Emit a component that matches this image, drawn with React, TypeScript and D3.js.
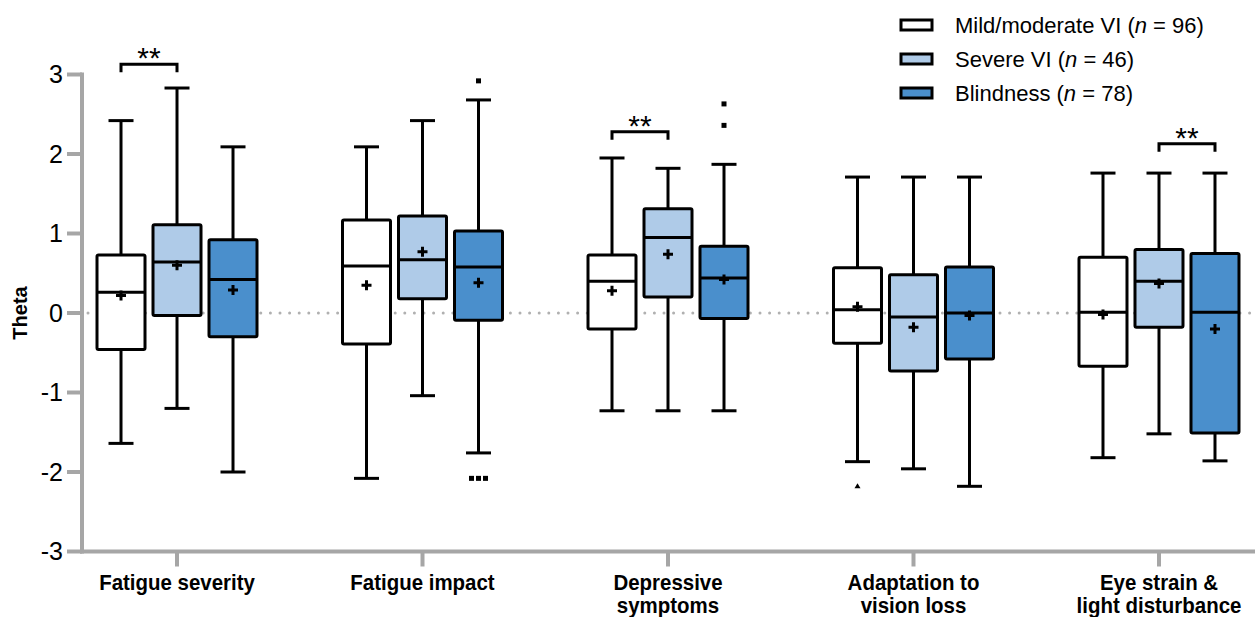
import React, { useEffect, useRef } from 'react';
import * as d3 from 'd3';

const categories = ['Fatigue severity', 'Fatigue impact', 'Depressive symptoms', 'Adaptation to vision loss', 'Eye strain & light disturbance'];
const categoryLines = [['Fatigue severity'], ['Fatigue impact'], ['Depressive', 'symptoms'], ['Adaptation to', 'vision loss'], ['Eye strain &', 'light disturbance']];
const seriesNames = ['Mild/moderate VI', 'Severe VI', 'Blindness'];
const seriesN = [96, 46, 78];
const seriesColors = ['#ffffff', '#afcbe8', '#4a8fcc'];

// [category][series]
const whiskerHigh = [[2.42, 2.83, 2.09], [2.09, 2.42, 2.68], [1.95, 1.82, 1.87], [1.71, 1.71, 1.71], [1.76, 1.76, 1.76]];
const q3 = [[0.73, 1.11, 0.92], [1.17, 1.22, 1.03], [0.73, 1.31, 0.84], [0.57, 0.48, 0.58], [0.7, 0.8, 0.75]];
const medians = [[0.26, 0.64, 0.42], [0.59, 0.67, 0.58], [0.4, 0.95, 0.44], [0.04, -0.05, 0.0], [0.01, 0.4, 0.01]];
const q1 = [[-0.46, -0.03, -0.3], [-0.39, 0.18, -0.09], [-0.2, 0.2, -0.07], [-0.38, -0.73, -0.58], [-0.67, -0.18, -1.51]];
const whiskerLow = [[-1.64, -1.2, -2.0], [-2.08, -1.04, -1.76], [-1.23, -1.23, -1.23], [-1.87, -1.96, -2.18], [-1.82, -1.52, -1.86]];
const means = [[0.22, 0.6, 0.29], [0.35, 0.77, 0.38], [0.28, 0.74, 0.42], [0.08, -0.18, -0.03], [-0.02, 0.37, -0.2]];

const outliers = [
  { cat: 1, series: 2, values: [2.92] },
  { cat: 1, series: 2, values: [-2.08, -2.08, -2.08] },
  { cat: 2, series: 2, values: [2.63, 2.36] },
];
const triangleOutliers = [{ cat: 3, series: 0, value: -2.18 }];

const brackets = [
  { cat: 0, from: 0, to: 1, value: 3.13, label: '**' },
  { cat: 2, from: 0, to: 1, value: 2.28, label: '**' },
  { cat: 4, from: 1, to: 2, value: 2.13, label: '**' },
];

const yTicks = [-3, -2, -1, 0, 1, 2, 3];

const W = 1259;
const H = 617;

export default function App() {
  const ref = useRef<SVGSVGElement>(null);

  useEffect(() => {
    const svg = d3.select(ref.current);
    svg.selectAll('*').remove();

    const axisLeft = 82;
    const axisRight = 1255;
    const y = d3.scaleLinear().domain([-3, 3]).range([551.5, 74.5]);
    const x = d3.scalePoint<string>().domain(categories).range([axisLeft, 1254]).padding(0.387);
    const sub = d3.scalePoint<string>().domain(seriesNames).range([-56, 56]);
    const boxW = 48;
    const capW = 25;
    const grey = '#a6a6a6';
    const font = 'Arial, "Liberation Sans", sans-serif';

    // zero reference line
    svg.append('line')
      .attr('x1', axisLeft + 6).attr('x2', axisRight)
      .attr('y1', y(0)).attr('y2', y(0))
      .attr('stroke', '#b0b0b0').attr('stroke-width', 3)
      .attr('stroke-linecap', 'round')
      .attr('stroke-dasharray', '0 9.6');

    // y axis
    const ya = svg.append('g');
    ya.append('line').attr('x1', axisLeft).attr('x2', axisLeft).attr('y1', y(3) - 2).attr('y2', y(-3) + 2)
      .attr('stroke', grey).attr('stroke-width', 4);
    yTicks.forEach((t) => {
      ya.append('line').attr('x1', axisLeft - 15).attr('x2', axisLeft).attr('y1', y(t)).attr('y2', y(t))
        .attr('stroke', grey).attr('stroke-width', 4);
      ya.append('text').attr('x', axisLeft - 19).attr('y', y(t)).attr('dy', '0.35em')
        .attr('text-anchor', 'end').attr('font-family', font).attr('font-size', 25).attr('fill', '#000')
        .text(String(t));
    });
    svg.append('text')
      .attr('transform', `translate(27,${y(0)}) rotate(-90)`)
      .attr('text-anchor', 'middle').attr('font-family', font).attr('font-weight', 'bold')
      .attr('font-size', 20).text('Theta');

    // x axis
    const xa = svg.append('g');
    xa.append('line').attr('x1', axisLeft - 2).attr('x2', axisRight).attr('y1', y(-3)).attr('y2', y(-3))
      .attr('stroke', grey).attr('stroke-width', 4);
    categories.forEach((c, i) => {
      const cx = x(c) as number;
      xa.append('line').attr('x1', cx).attr('x2', cx).attr('y1', y(-3)).attr('y2', y(-3) + 15)
        .attr('stroke', grey).attr('stroke-width', 4);
      const t = xa.append('text').attr('text-anchor', 'middle')
        .attr('transform', `translate(${cx},0) scale(0.93,1)`)
        .attr('font-family', font)
        .attr('font-weight', 'bold').attr('font-size', 22);
      categoryLines[i].forEach((line, j) => {
        t.append('tspan').attr('x', 0).attr('y', 590 + j * 23).text(line);
      });
    });

    // boxes
    const g = svg.append('g');
    categories.forEach((c, ci) => {
      seriesNames.forEach((s, si) => {
        const cx = (x(c) as number) + (sub(s) as number);
        const bg = g.append('g');
        bg.append('line').attr('x1', cx).attr('x2', cx)
          .attr('y1', y(whiskerHigh[ci][si])).attr('y2', y(q3[ci][si]))
          .attr('stroke', '#000').attr('stroke-width', 3);
        bg.append('line').attr('x1', cx).attr('x2', cx)
          .attr('y1', y(q1[ci][si])).attr('y2', y(whiskerLow[ci][si]))
          .attr('stroke', '#000').attr('stroke-width', 3);
        [whiskerHigh[ci][si], whiskerLow[ci][si]].forEach((v) => {
          bg.append('line').attr('x1', cx - capW / 2).attr('x2', cx + capW / 2)
            .attr('y1', y(v)).attr('y2', y(v)).attr('stroke', '#000').attr('stroke-width', 3);
        });
        bg.append('rect').attr('x', cx - boxW / 2).attr('width', boxW)
          .attr('y', y(q3[ci][si])).attr('height', y(q1[ci][si]) - y(q3[ci][si]))
          .attr('fill', seriesColors[si]).attr('stroke', '#000').attr('stroke-width', 3)
          .attr('rx', 1.5);
        bg.append('line').attr('x1', cx - boxW / 2).attr('x2', cx + boxW / 2)
          .attr('y1', y(medians[ci][si])).attr('y2', y(medians[ci][si]))
          .attr('stroke', '#000').attr('stroke-width', 3);
        const my = y(means[ci][si]);
        bg.append('path').attr('d', `M${cx - 5},${my}H${cx + 5}M${cx},${my - 5}V${my + 5}`)
          .attr('stroke', '#000').attr('stroke-width', 3);
      });
    });

    // outliers
    outliers.forEach((o) => {
      const cx = (x(categories[o.cat]) as number) + (sub(seriesNames[o.series]) as number);
      const counts = new Map<number, number>();
      o.values.forEach((v) => counts.set(v, (counts.get(v) || 0) + 1));
      const seen = new Map<number, number>();
      o.values.forEach((v) => {
        const n = counts.get(v) || 1;
        const k = seen.get(v) || 0;
        seen.set(v, k + 1);
        const ox = cx + (k - (n - 1) / 2) * 7;
        g.append('rect').attr('x', ox - 2.5).attr('y', y(v) - 2.5).attr('width', 5).attr('height', 5).attr('fill', '#000');
      });
    });
    triangleOutliers.forEach((o) => {
      const cx = (x(categories[o.cat]) as number) + (sub(seriesNames[o.series]) as number);
      const ty = y(o.value);
      g.append('path').attr('d', `M${cx},${ty - 3}L${cx + 3},${ty + 2}L${cx - 3},${ty + 2}Z`).attr('fill', '#000');
    });

    // significance brackets
    brackets.forEach((b) => {
      const base = x(categories[b.cat]) as number;
      const x1 = base + (sub(seriesNames[b.from]) as number);
      const x2 = base + (sub(seriesNames[b.to]) as number);
      const by = y(b.value);
      g.append('path').attr('d', `M${x1},${by + 8}V${by}H${x2}V${by + 8}`)
        .attr('fill', 'none').attr('stroke', '#000').attr('stroke-width', 3);
      g.append('text').attr('x', (x1 + x2) / 2).attr('y', by + 4).attr('text-anchor', 'middle')
        .attr('font-family', font).attr('font-size', 30).text(b.label);
    });

    // legend
    const lg = svg.append('g');
    seriesNames.forEach((s, i) => {
      const ly = 25 + i * 34;
      lg.append('rect').attr('x', 901).attr('y', ly - 5).attr('width', 31).attr('height', 10)
        .attr('fill', seriesColors[i]).attr('stroke', '#000').attr('stroke-width', 3);
      const t = lg.append('text').attr('x', 955).attr('y', ly).attr('dy', '0.35em')
        .attr('font-family', font).attr('font-size', 22);
      t.append('tspan').text(`${s} (`);
      t.append('tspan').attr('font-style', 'italic').text('n');
      t.append('tspan').text(` = ${seriesN[i]})`);
    });
  }, []);

  return (
    <svg ref={ref} width={W} height={H} style={{ position: 'absolute', left: 0, top: 0, background: '#fff' }} />
  );
}
